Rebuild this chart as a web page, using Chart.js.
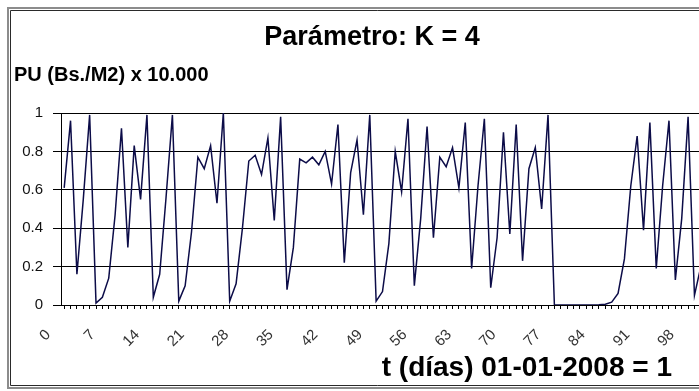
<!DOCTYPE html>
<html>
<head>
<meta charset="utf-8">
<script src="https://cdn.jsdelivr.net/npm/chart.js@4.4.1/dist/chart.umd.min.js"></script>
<style>
  html, body { margin: 0; padding: 0; background: #fff; width: 699px; height: 391px; overflow: hidden; }
  canvas { position: absolute; left: 0; top: 0; }
</style>
</head>
<body>
<canvas id="chart" width="744" height="391"></canvas>
<script>
// days since 01-01-2008 (category axis)
const days = Array.from({ length: 101 }, (_, i) => String(i));

// PU (Bs./M2) x 10.000
const pu = [
  0.61, 0.96, 0.16, 0.55, 0.99, 0.01, 0.04, 0.14, 0.47, 0.92,
  0.30, 0.83, 0.55, 0.99, 0.04, 0.16, 0.56, 0.99, 0.02, 0.10,
  0.38, 0.77, 0.71, 0.83, 0.53, 1.00, 0.02, 0.11, 0.40, 0.75,
  0.78, 0.68, 0.87, 0.44, 0.98, 0.08, 0.30, 0.76, 0.74, 0.77,
  0.73, 0.80, 0.63, 0.94, 0.22, 0.69, 0.86, 0.47, 0.99, 0.02,
  0.07, 0.32, 0.80, 0.59, 0.97, 0.10, 0.45, 0.93, 0.35, 0.77,
  0.72, 0.82, 0.61, 0.95, 0.19, 0.62, 0.97, 0.09, 0.35, 0.90,
  0.37, 0.94, 0.23, 0.71, 0.82, 0.50, 0.99, 0.00, 0.00, 0.00,
  0.00, 0.00, 0.00, 0.00, 0.001, 0.004, 0.015, 0.06, 0.24, 0.62,
  0.88, 0.39, 0.95, 0.19, 0.62, 0.96, 0.13, 0.45, 0.98, 0.05,
  0.20
];

const tickLabels = ['0', '7', '14', '21', '28', '35', '42', '49', '56', '63', '70', '77', '84', '91', '98'];

const title = 'Parámetro: K = 4';
const yTitle = 'PU (Bs./M2) x 10.000';
const xTitle = 't (días) 01-01-2008 = 1';

const family = '"Liberation Sans", Arial, sans-serif';

// chart frame + titles, drawn straight on the canvas
const texts = {
  id: 'texts',
  afterDraw(chart) {
    const ctx = chart.ctx;
    ctx.save();
    ctx.lineWidth = 2;
    ctx.strokeStyle = '#8c8c8c';
    ctx.beginPath();
    ctx.moveTo(760, 8);
    ctx.lineTo(8, 8);
    ctx.lineTo(8, 388);
    ctx.lineTo(760, 388);
    ctx.stroke();
    ctx.lineWidth = 1;
    ctx.strokeStyle = '#2a2a2a';
    ctx.beginPath();
    ctx.moveTo(760, 10.5);
    ctx.lineTo(10.5, 10.5);
    ctx.lineTo(10.5, 385.5);
    ctx.lineTo(760, 385.5);
    ctx.stroke();

    ctx.fillStyle = '#000';
    ctx.textBaseline = 'middle';
    ctx.font = 'bold 27px ' + family;
    ctx.textAlign = 'center';
    ctx.fillText(title, 372, 38);
    ctx.font = 'bold 20px ' + family;
    ctx.textAlign = 'left';
    ctx.fillText(yTitle, 14, 75);
    ctx.font = 'bold 28px ' + family;
    ctx.textAlign = 'right';
    ctx.fillText(xTitle, 672, 368);
    ctx.restore();
  }
};

const config = {
  type: 'line',
  data: {
    labels: days,
    datasets: [{
      data: pu,
      borderColor: '#0c0c48',
      borderWidth: 1.5,
      pointRadius: 0,
      tension: 0,
      fill: false
    }]
  },
  options: {
    responsive: false,
    animation: false,
    devicePixelRatio: 1,
    layout: { padding: { top: 113, right: 40, left: 0, bottom: 0 } },
    plugins: {
      legend: { display: false },
      title: { display: false },
      tooltip: { enabled: false }
    },
    scales: {
      x: {
        type: 'category',
        offset: true,
        afterFit(s) { s.height = 86; },
        grid: { drawOnChartArea: false, offset: false, color: '#000', tickLength: 4 },
        border: { color: '#000' },
        ticks: {
          autoSkip: false,
          minRotation: 45,
          maxRotation: 45,
          padding: 17,
          labelOffset: -16,
          color: '#333',
          font: { size: 15, family: family },
          callback(v) {
            const l = this.getLabelForValue(v);
            return tickLabels.includes(l) ? l : '';
          }
        }
      },
      y: {
        min: 0,
        max: 1,
        afterFit(s) { s.width = 61; },
        grid: { color: '#000', lineWidth: 1, tickLength: 8 },
        border: { color: '#000' },
        ticks: {
          stepSize: 0.2,
          padding: 10,
          color: '#111',
          font: { size: 15, family: family },
          callback: v => String(Number(v.toFixed(1)))
        }
      }
    }
  },
  plugins: [texts]
};

new Chart(document.getElementById('chart'), config);
</script>
</body>
</html>
